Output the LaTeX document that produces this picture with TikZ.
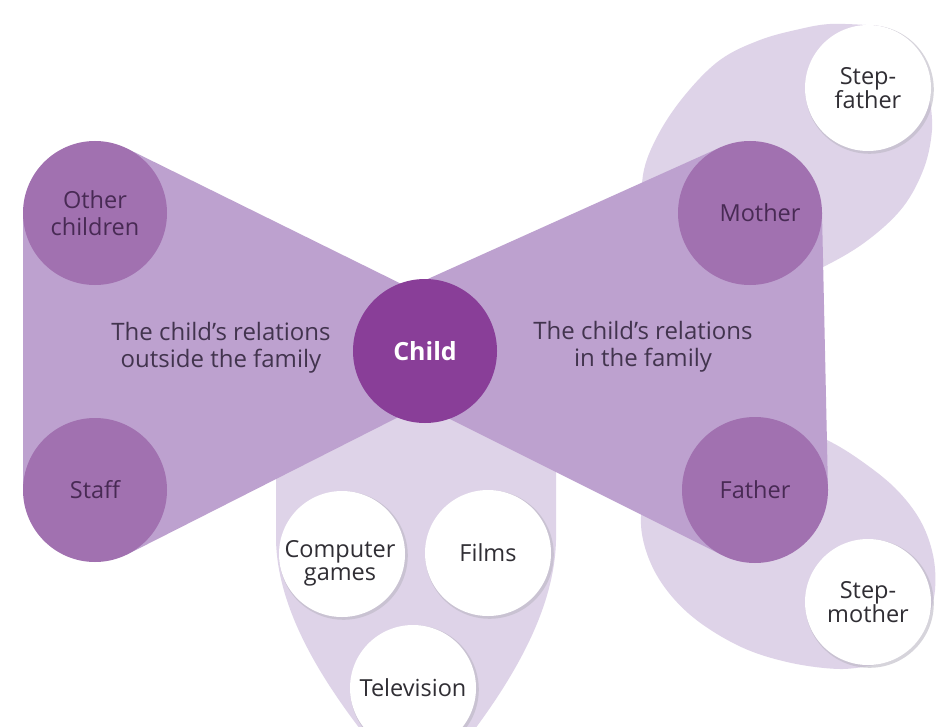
\documentclass[tikz,border=0pt]{standalone}
\usepackage{fontspec}
\setmainfont{Open Sans}
\usetikzlibrary{shadows}
\definecolor{bandc}{RGB}{189,161,207}
\definecolor{outerc}{RGB}{161,113,176}
\definecolor{childc}{RGB}{137,62,152}
\definecolor{lavc}{RGB}{222,211,232}
\definecolor{txtp}{RGB}{72,42,84}
\definecolor{txtb}{RGB}{66,52,78}
\definecolor{txtg}{RGB}{48,46,52}
\definecolor{shadc}{RGB}{188,184,196}
\begin{document}
\begin{tikzpicture}[x=1pt,y=-1pt,
  lbl/.style={align=center, inner sep=0pt, font=\fontsize{23.5}{26}\selectfont},
  bandlbl/.style={align=center, inner sep=0pt, text=txtb, font=\fontsize{24}{27}\selectfont},
  purplecirc/.style={circle, fill=outerc, minimum size=144pt, inner sep=0pt, align=center,
     text=txtp, font=\fontsize{23.5}{26.5}\selectfont},
  whitecirc/.style={circle, fill=white, minimum size=126pt, inner sep=0pt, align=center,
     text=txtg, font=\fontsize{23.5}{24}\selectfont,
     drop shadow={shadow xshift=1.5pt, shadow yshift=-1.5pt, shadow scale=1.02, fill=shadc, opacity=0.6}},
  childcirc/.style={circle, fill=childc, minimum size=144pt, inner sep=0pt,
     text=white, font=\fontsize{25}{28}\selectfont\bfseries},
  lavshape/.style={fill=lavc},
  bandshape/.style={fill=bandc}]
\useasboundingbox (0,0) rectangle (949,727);
\fill[white] (0,0) rectangle (949,727);

% upper crescent (behind Step-father)
\fill[lavshape] plot[smooth, tension=0.6] coordinates {
  (865.8,25) (830,24) (800,29) (760,40) (720,60) (685,95) (658,135) (643,175)
  (645,220) (670,262) (720,285) (780,285) (827,265) (868,240) (903,207)
  (924,168) (932,130) (929.9,99.6)}
  arc[start angle=10.6, end angle=-92, radius=63] -- cycle;

% lower crescent (behind Step-mother)
\fill[lavshape] plot[smooth, tension=0.6] coordinates {
  (927.9,621.5) (935,590) (933,555) (920,520) (895,488) (860,460) (827,440)
  (790,425) (730,420) (680,440) (650,480) (641,525) (655,572) (688,613)
  (737,645) (787,662) (840,669) (878.9,664)}
  arc[start angle=80, end angle=18, radius=63] -- cycle;

% shield below the child
\fill[lavshape] (276,440) -- (276,540) .. controls (278,640) and (368,740) .. (418,800)
  .. controls (468,740) and (554,640) .. (556,540) -- (556,440)
  .. controls (545,370) and (287,370) .. (276,440) -- cycle;

% bow-tie bands
\fill[bandshape] (23,213) -- (127.5,148.8) -- (440,303) -- (440,396) -- (127.2,554.4) -- (23,490) -- cycle;
\fill[bandshape] (410,287) -- (720.5,147.3) -- (822,213) -- (828,490) -- (722.4,555.3) -- (410,399) -- cycle;

% purple circles
\node[purplecirc] (oc) at (95,213) {Other\\children};
\node[purplecirc] (staff) at (95,490) {Staff};
\node[purplecirc] (mother) at (750,213) {};
\node[purplecirc, minimum size=146pt] (father) at (755,490) {Father};
\node[lbl, text=txtp] (mothert) at (760,213) {Mother};

% white circles
\node[whitecirc] (stepf) at (868,88) {Step-\\father};
\node[whitecirc] (stepm) at (868,602) {Step-\\mother};
\node[whitecirc] (cg) at (342,554) {};
\node[whitecirc] (films) at (488,553) {Films};
\node[whitecirc] (tv) at (413,688) {Television};
\node[lbl, text=txtg, font=\fontsize{23.5}{23}\selectfont] (cgt) at (340,563) {Computer\\games};

% child
\node[childcirc] (child) at (425,351) {Child};

% band labels
\node[bandlbl] (outlab) at (221,348) {The child's relations\\outside the family};
\node[bandlbl] (inlab) at (643,347) {The child's relations\\in the family};
\end{tikzpicture}
\end{document}
